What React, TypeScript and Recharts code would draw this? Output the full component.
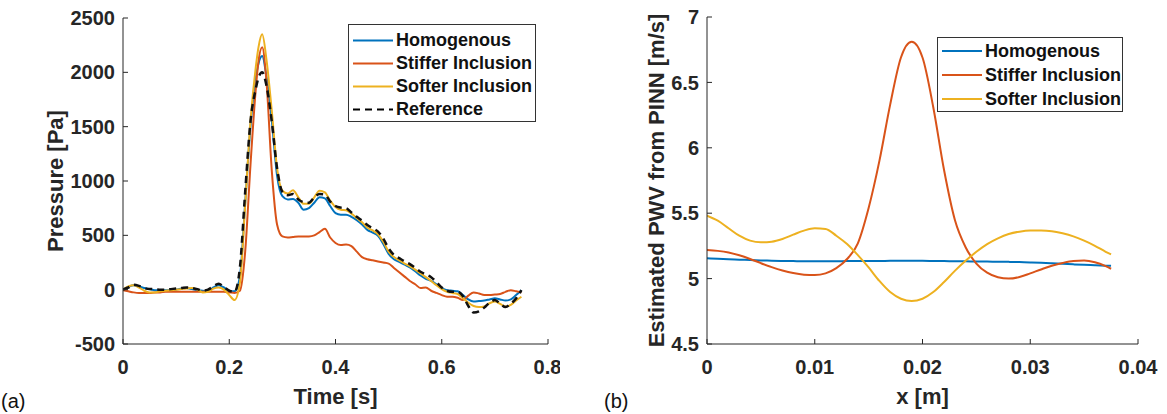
import { LineChart, Line, XAxis, YAxis, Legend } from "recharts";

// ---- (a) pressure waveforms ----
const timeS = [
  0, 0.01, 0.02, 0.03, 0.04, 0.05, 0.06, 0.07, 0.08, 0.09, 0.1, 0.11, 0.12, 0.13, 0.14, 0.15, 0.16, 0.17, 0.18, 0.19, 0.2,
  0.21, 0.22, 0.23, 0.24, 0.25, 0.255, 0.262, 0.27, 0.28, 0.29, 0.3,
  0.31, 0.32, 0.33, 0.34, 0.35, 0.36, 0.37, 0.38, 0.39, 0.4, 0.41, 0.42, 0.43, 0.44, 0.45, 0.46, 0.47, 0.48, 0.49, 0.5,
  0.51, 0.52, 0.53, 0.54, 0.55, 0.56, 0.57, 0.58, 0.59, 0.6, 0.61, 0.62, 0.63, 0.64, 0.65, 0.66, 0.67, 0.68, 0.69, 0.7,
  0.71, 0.72, 0.73, 0.74, 0.75,
];
const homogenousP = [
  0, 25, 40, 30, 15, 5, -5, -5, -5, -5, 0, 10, 15, 5, -5, -10, -15, 20, 40, 20, -10,
  -15, 120, 800, 1500, 1950, 2080, 2150, 1960, 1560, 1050, 860,
  830, 835, 800, 735, 750, 800, 850, 840, 770, 705, 690, 690, 670, 640, 600, 550, 525, 495, 420, 330,
  280, 255, 230, 205, 170, 130, 100, 80, 50, 15, -5, -10, -15, -50, -90, -110, -105, -100, -90, -80,
  -90, -100, -90, -50, -5,
];
const stifferP = [
  -5, -15, -25, -30, -30, -30, -25, -25, -20, -20, -20, -20, -20, -20, -20, -20, -20, -20, -20, -20, -25,
  -30, -10, 350, 1150, 1850, 2100, 2230, 1920, 1100, 600, 490,
  480, 485, 490, 490, 490, 500, 530, 560, 480, 430, 410, 415, 400, 350, 300, 280, 270, 260, 250, 240,
  200, 160, 120, 80, 50, 15, 20, -10, -30, -50, -65, -65, -75, -95, -55, -25, -35, -50, -50, -45,
  -40, -20, -5, -15, -25,
];
const softerP = [
  0, 30, 40, 20, -10, -25, -25, -15, -10, -5, 0, 5, 10, 15, 0, -25, -20, 10, 20, 0, -50,
  -95, 60, 780, 1550, 2050, 2230, 2350, 2120, 1650, 1120, 910,
  885, 915, 850, 790, 790, 850, 910, 895, 820, 760, 735, 730, 700, 660, 620, 570, 545, 510, 440, 350,
  300, 270, 240, 215, 185, 150, 115, 80, 40, 5, -20, -30, -40, -80, -120, -150, -160, -155, -125, -110,
  -130, -155, -140, -100, -65,
];
const referenceP = [
  0, 20, 45, 35, 15, 5, 5, 0, 0, 5, 10, 15, 20, 15, 5, -10, 0, 30, 55, 25, -10,
  -20, 200, 900, 1550, 1850, 1950, 2000, 1880, 1550, 1120, 900,
  870, 880, 830, 805, 800, 850, 880, 875, 810, 770, 755, 750, 710, 670, 635, 595, 565, 535, 470, 380,
  320, 290, 260, 235, 200, 165, 140, 115, 70, 20, -10, -20, -20, -60, -150, -210, -200, -165, -120, -95,
  -130, -160, -130, -80, -5,
];
const timeTicks = [0, 0.2, 0.4, 0.6, 0.8];
const pressureTicks = [-500, 0, 500, 1000, 1500, 2000, 2500];

// ---- (b) estimated PWV along x ----
const positionM = [
  0, 0.001, 0.002, 0.003, 0.004, 0.005, 0.006, 0.007, 0.008, 0.009, 0.01, 0.011, 0.012, 0.013, 0.014, 0.015, 0.016,
  0.017, 0.018, 0.019, 0.02, 0.021, 0.022, 0.023, 0.024, 0.025, 0.026, 0.027, 0.028, 0.029, 0.03, 0.031, 0.032,
  0.033, 0.034, 0.035, 0.036, 0.037, 0.0375,
];
const homogenousPwv = [
  5.155, 5.152, 5.148, 5.145, 5.142, 5.139, 5.137, 5.135, 5.134, 5.133, 5.133, 5.133, 5.133, 5.134, 5.134, 5.135, 5.135,
  5.136, 5.136, 5.136, 5.136, 5.135, 5.134, 5.133, 5.132, 5.131, 5.13, 5.129, 5.128, 5.126, 5.124, 5.121, 5.117,
  5.113, 5.109, 5.105, 5.102, 5.099, 5.098,
];
const stifferPwv = [
  5.218, 5.212, 5.2, 5.178, 5.15, 5.118, 5.088, 5.062, 5.042, 5.03, 5.027, 5.04, 5.08, 5.15, 5.27, 5.54, 5.9,
  6.33, 6.69, 6.81, 6.69, 6.31, 5.83, 5.45, 5.24, 5.115, 5.045, 5.01, 5.0, 5.012, 5.04, 5.07, 5.098,
  5.12, 5.135, 5.138, 5.125, 5.095, 5.075,
];
const softerPwv = [
  5.482, 5.443, 5.385, 5.328, 5.29, 5.277, 5.282, 5.303, 5.336, 5.367, 5.385, 5.38, 5.328, 5.264, 5.179, 5.085, 4.982,
  4.897, 4.846, 4.828, 4.846, 4.897, 4.974, 5.059, 5.136, 5.205, 5.264, 5.308, 5.341, 5.359, 5.367, 5.367, 5.362,
  5.346, 5.323, 5.29, 5.251, 5.205, 5.185,
];
const xTicks = [0, 0.01, 0.02, 0.03, 0.04];
const pwvTicks = [4.5, 5, 5.5, 6, 6.5, 7];

const pressureData = timeS.map((t, i) => ({
  t,
  homogenous: homogenousP[i],
  stiffer: stifferP[i],
  softer: softerP[i],
  reference: referenceP[i],
}));

const pwvData = positionM.map((x, i) => ({
  x,
  homogenous: homogenousPwv[i],
  stiffer: stifferPwv[i],
  softer: softerPwv[i],
}));

const BLUE = "#0072BD";
const RED = "#D95319";
const YELLOW = "#EDB120";
const AXIS = "#262626";
const FONT = "'Liberation Sans', Arial, sans-serif";

const tickStyle = { fontSize: 20, fontWeight: 700, fill: AXIS, fontFamily: FONT };
const labelStyle = { fontSize: 22, fontWeight: 700, fill: AXIS, fontFamily: FONT };

type Item = { name: string; color: string; dashed?: boolean };

const pressureSeries: Item[] = [
  { name: "Homogenous", color: BLUE },
  { name: "Stiffer Inclusion", color: RED },
  { name: "Softer Inclusion", color: YELLOW },
  { name: "Reference", color: "#000", dashed: true },
];
const pwvSeries: Item[] = pressureSeries.slice(0, 3);

function LegendBox({ items, rowH, padTop, width }: { items: Item[]; rowH: number; padTop: number; width: number }) {
  return (
    <div
      style={{
        width,
        boxSizing: "border-box",
        border: "1px solid #333",
        background: "#fff",
        paddingTop: padTop,
        fontFamily: FONT,
        fontWeight: 700,
        fontSize: 18,
        color: "#111",
      }}
    >
      {items.map((it) => (
        <div key={it.name} style={{ height: rowH, display: "flex", alignItems: "center" }}>
          <svg width={47} height={rowH} style={{ flex: "none" }}>
            <line
              x1={4}
              x2={44}
              y1={rowH / 2}
              y2={rowH / 2}
              stroke={it.color}
              strokeWidth={2}
              strokeDasharray={it.dashed ? "7 5" : undefined}
            />
          </svg>
          <span style={{ whiteSpace: "nowrap" }}>{it.name}</span>
        </div>
      ))}
    </div>
  );
}

export default function App() {
  return (
    <div style={{ position: "absolute", left: 0, top: 0, width: 1167, height: 414, background: "#fff" }}>
      <div style={{ position: "absolute", left: 0, top: 0 }}>
        <LineChart width={560} height={414} data={pressureData} margin={{ top: 18, right: 12, bottom: 40, left: 63 }}>
          <XAxis
            type="number"
            dataKey="t"
            domain={[0, 0.8]}
            ticks={timeTicks}
            allowDataOverflow
            height={30}
            stroke={AXIS}
            tickSize={-5}
            tickMargin={21}
            tick={tickStyle}
            label={{ value: "Time [s]", position: "bottom", offset: 14, style: labelStyle }}
          />
          <XAxis
            xAxisId="top"
            orientation="top"
            type="number"
            dataKey="t"
            domain={[0, 0.8]}
            ticks={timeTicks}
            allowDataOverflow
            height={0}
            stroke={AXIS}
            tickSize={-5}
            tick={false}
          />
          <YAxis
            type="number"
            domain={[-500, 2500]}
            ticks={pressureTicks}
            allowDataOverflow
            width={60}
            stroke={AXIS}
            tickSize={-5}
            tickMargin={13}
            tick={tickStyle}
            label={{
              value: "Pressure [Pa]",
              angle: -90,
              position: "insideLeft",
              offset: -8,
              style: { ...labelStyle, textAnchor: "middle" },
            }}
          />
          <YAxis
            yAxisId="r"
            orientation="right"
            type="number"
            domain={[-500, 2500]}
            ticks={pressureTicks}
            allowDataOverflow
            width={0}
            stroke={AXIS}
            tickSize={-5}
            tick={false}
          />
          <Legend
            layout="vertical"
            align="center"
            verticalAlign="middle"
            wrapperStyle={{ left: 348, top: 24, width: 188 }}
            content={() => <LegendBox items={pressureSeries} rowH={23} padTop={4} width={188} />}
          />
          <Line type="monotone" dataKey="homogenous" name="Homogenous" stroke={BLUE} strokeWidth={2} dot={false} activeDot={false} isAnimationActive={false} />
          <Line type="monotone" dataKey="stiffer" name="Stiffer Inclusion" stroke={RED} strokeWidth={2} dot={false} activeDot={false} isAnimationActive={false} />
          <Line type="monotone" dataKey="softer" name="Softer Inclusion" stroke={YELLOW} strokeWidth={2} dot={false} activeDot={false} isAnimationActive={false} />
          <Line type="monotone" dataKey="reference" name="Reference" stroke="#111" strokeWidth={2.5} strokeDasharray="7 5" dot={false} activeDot={false} isAnimationActive={false} />
        </LineChart>
      </div>

      <div style={{ position: "absolute", left: 620, top: 0 }}>
        <LineChart width={547} height={414} data={pwvData} margin={{ top: 17, right: 29, bottom: 40, left: 27 }}>
          <XAxis
            type="number"
            dataKey="x"
            domain={[0, 0.04]}
            ticks={xTicks}
            allowDataOverflow
            height={30}
            stroke={AXIS}
            tickSize={-5}
            tickMargin={21}
            tick={tickStyle}
            label={{ value: "x [m]", position: "bottom", offset: 14, style: labelStyle }}
          />
          <XAxis
            xAxisId="top"
            orientation="top"
            type="number"
            dataKey="x"
            domain={[0, 0.04]}
            ticks={xTicks}
            allowDataOverflow
            height={0}
            stroke={AXIS}
            tickSize={-5}
            tick={false}
          />
          <YAxis
            type="number"
            domain={[4.5, 7]}
            ticks={pwvTicks}
            allowDataOverflow
            width={60}
            stroke={AXIS}
            tickSize={-5}
            tickMargin={13}
            tick={tickStyle}
            label={{
              value: "Estimated PWV from PINN [m/s]",
              angle: -90,
              position: "insideLeft",
              offset: 9,
              style: { ...labelStyle, textAnchor: "middle" },
            }}
          />
          <YAxis
            yAxisId="r"
            orientation="right"
            type="number"
            domain={[4.5, 7]}
            ticks={pwvTicks}
            allowDataOverflow
            width={0}
            stroke={AXIS}
            tickSize={-5}
            tick={false}
          />
          <Legend
            layout="vertical"
            align="center"
            verticalAlign="middle"
            wrapperStyle={{ left: 317, top: 37, width: 186 }}
            content={() => <LegendBox items={pwvSeries} rowH={24} padTop={1} width={186} />}
          />
          <Line type="monotone" dataKey="homogenous" name="Homogenous" stroke={BLUE} strokeWidth={2} dot={false} activeDot={false} isAnimationActive={false} />
          <Line type="monotone" dataKey="stiffer" name="Stiffer Inclusion" stroke={RED} strokeWidth={2} dot={false} activeDot={false} isAnimationActive={false} />
          <Line type="monotone" dataKey="softer" name="Softer Inclusion" stroke={YELLOW} strokeWidth={2} dot={false} activeDot={false} isAnimationActive={false} />
        </LineChart>
      </div>

      <div style={{ position: "absolute", left: 1, top: 390, fontFamily: FONT, fontSize: 20, color: "#111" }}>(a)</div>
      <div style={{ position: "absolute", left: 604, top: 390, fontFamily: FONT, fontSize: 20, color: "#111" }}>(b)</div>
    </div>
  );
}
